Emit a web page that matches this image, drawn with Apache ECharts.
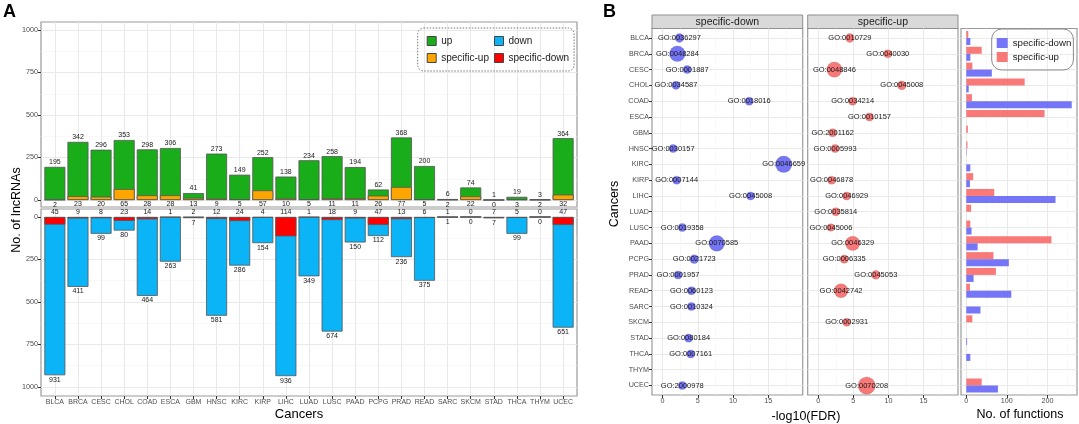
<!DOCTYPE html>
<html><head><meta charset="utf-8">
<script src="https://cdn.jsdelivr.net/npm/echarts@6/dist/echarts.min.js"></script>
<style>html,body{margin:0;padding:0;background:#fff}#c{width:1079px;height:424px}</style>
</head><body><div id="c"></div>
<script>
// ---------- data ----------
const cancers = ['BLCA','BRCA','CESC','CHOL','COAD','ESCA','GBM','HNSC','KIRC','KIRP','LIHC','LUAD','LUSC','PAAD','PCPG','PRAD','READ','SARC','SKCM','STAD','THCA','THYM','UCEC'];
const upTotal      = [195,342,296,353,298,306,41,273,149,252,138,234,258,194,62,368,200,6,74,1,19,3,364];
const upSpecific   = [2,23,20,65,28,28,13,9,5,57,10,5,11,11,26,77,5,2,22,0,3,2,32];
const downTotal    = [931,411,99,80,464,263,7,581,286,154,936,349,674,150,112,236,375,1,0,7,99,0,651];
const downSpecific = [45,9,8,23,14,1,2,12,24,4,114,1,18,9,47,13,6,1,0,7,5,0,47];
const countTicks = [0,250,500,750,1000];
const countMinor = [125,375,625,875];

const sdFDR   = [2.4,2.1,3.5,1.9,12.3,null,null,1.5,17.2,2.0,12.5,null,2.8,7.7,4.5,2.2,4.1,4.1,null,3.7,4.0,null,2.8];
const sdGO    = ['GO:0036297','GO:0048284','GO:0001887','GO:0034587','GO:0018016',null,null,'GO:0030157','GO:0046659','GO:0007144','GO:0045008',null,'GO:0019358','GO:0070585','GO:0021723','GO:0001957','GO:0060123','GO:0010324',null,'GO:0080184','GO:0007161',null,'GO:2000978'];
const sdCount = [6,19,5,5,5,null,null,5,21,5,5,null,5,19,6,5,5,5,null,5,5,null,5];
const suFDR   = [4.5,9.9,2.3,11.9,4.9,7.3,2.05,2.4,null,1.9,4.05,2.5,1.8,4.9,3.7,8.2,3.25,null,4.05,null,null,null,6.9];
const suGO    = ['GO:0010729','GO:0040030','GO:0048846','GO:0045008','GO:0034214','GO:0010157','GO:2001162','GO:0005993',null,'GO:0046878','GO:0046929','GO:0035814','GO:0045006','GO:0046329','GO:0006335','GO:0045053','GO:0042742',null,'GO:0002931',null,null,null,'GO:0070208'];
const suCount = [6,5,18,6,5,5,5,5,null,5,5,5,4.5,16,5,6,15,null,5,null,null,null,23];
const fdrTicks = [0,5,10,15];
const fdrMinor = [2.5,7.5,12.5,17.5];

const funcDown = [10,10,63,6,260,0,0,1,10,9,220,0,13,28,105,18,111,35,0,2,10,0,78];
const funcUp   = [5,38,15,144,14,193,4,3,0,17,69,12,10,210,67,73,9,0,15,0,0,0,38];
const funcTicks = [0,100,200];
const funcMinor = [50,150,250];

// ---------- chart ----------
const chart = echarts.init(document.getElementById('c'), null, {renderer:'canvas'});
const F = '"Liberation Sans", Arial, Helvetica, sans-serif';
const idx = cancers.map((_, i) => i);
const COL = { up:'#19ad19', sup:'#ffa500', down:'#0bb4f7', sdown:'#ff0000',
  bBlue:'rgba(102,102,246,0.9)', bRed:'rgba(248,106,106,0.9)' };
const major = {color:'#e9e9e9', width:1};
const minor = {color:'#f4f4f4', width:0.6};
const tick = {show:true, length:3, lineStyle:{color:'#333', width:1}};
const lab = {color:'#4d4d4d', fontSize:7.2, fontFamily:F, formatter:v => String(v)};
const border = {show:true, borderColor:'#9a9a9a', borderWidth:1.2, outerBoundsMode:'none'};
const noLine = {show:false, onZero:false};

function vAxis(o){ return Object.assign({type:'value', axisLine:noLine, splitLine:{show:true, lineStyle:major}}, o); }
function minorAxis(o, vals){ return Object.assign({type:'value', axisLine:noLine,
  axisTick:{show:false, customValues:vals}, axisLabel:{show:false},
  splitLine:{show:true, lineStyle:minor}}, o); }

const sdPoints = [], suPoints = [];
cancers.forEach((c, i) => {
  if (sdFDR[i] != null) sdPoints.push([sdFDR[i], i, sdGO[i], sdCount[i]]);
  if (suFDR[i] != null) suPoints.push([suFDR[i], i, suGO[i], suCount[i]]);
});

const barLabel = (pos) => ({show:true, position:pos, distance:1, fontSize:7, color:'#1a1a1a', fontFamily:F});
const scatterLabel = {show:true, position:'inside', formatter:p => p.data[2], fontSize:7.5, color:'#1a1a1a', fontFamily:F};
const catFmt = v => cancers[Math.round(v)];

const option = {
  animation:false,
  textStyle:{fontFamily:F},
  grid:[
    Object.assign({left:41, top:22, width:536, height:185}, border),
    Object.assign({left:41, top:209, width:536, height:187}, border),
    Object.assign({left:652, top:28.5, width:150.7, height:366.5}, border),
    Object.assign({left:807.7, top:28.5, width:150.3, height:366.5}, border),
    Object.assign({left:961, top:28.5, width:116, height:366.5}, border),
    {left:961, top:30.1, width:116, height:363.3, show:false, outerBoundsMode:'none'}
  ],
  xAxis:[
    vAxis({gridIndex:0, min:-0.6, max:22.6, axisTick:{show:false, customValues:idx}, axisLabel:{show:false}}),
    vAxis({gridIndex:1, min:-0.6, max:22.6, axisTick:Object.assign({customValues:idx}, tick),
      axisLabel:Object.assign({}, lab, {customValues:idx, margin:3, fontSize:7, formatter:catFmt})}),
    vAxis({gridIndex:2, min:-1.5, max:19.9, axisTick:Object.assign({customValues:fdrTicks}, tick),
      axisLabel:Object.assign({}, lab, {customValues:fdrTicks, margin:3})}),
    minorAxis({gridIndex:2, min:-1.5, max:19.9, position:'top'}, fdrMinor),
    vAxis({gridIndex:3, min:-1.5, max:19.9, axisTick:Object.assign({customValues:fdrTicks}, tick),
      axisLabel:Object.assign({}, lab, {customValues:fdrTicks, margin:3})}),
    minorAxis({gridIndex:3, min:-1.5, max:19.9, position:'top'}, fdrMinor),
    vAxis({gridIndex:4, min:-13, max:273, axisTick:Object.assign({customValues:funcTicks}, tick),
      axisLabel:Object.assign({}, lab, {customValues:funcTicks, margin:3})}),
    minorAxis({gridIndex:4, min:-13, max:273, position:'top'}, funcMinor),
    {type:'value', gridIndex:5, min:-13, max:273, show:false, axisLine:noLine}
  ],
  yAxis:[
    vAxis({gridIndex:0, min:-41, max:1047, axisTick:Object.assign({customValues:countTicks}, tick),
      axisLabel:Object.assign({}, lab, {customValues:countTicks, margin:3})}),
    minorAxis({gridIndex:0, min:-41, max:1047, position:'right'}, countMinor),
    vAxis({gridIndex:1, min:-47, max:1053, inverse:true, axisTick:Object.assign({customValues:countTicks}, tick),
      axisLabel:Object.assign({}, lab, {customValues:countTicks, margin:3})}),
    minorAxis({gridIndex:1, min:-47, max:1053, inverse:true, position:'right'}, countMinor),
    vAxis({gridIndex:2, min:-0.6, max:22.6, inverse:true, axisTick:Object.assign({customValues:idx}, tick),
      axisLabel:Object.assign({}, lab, {customValues:idx, margin:3, formatter:catFmt})}),
    vAxis({gridIndex:3, min:-0.6, max:22.6, inverse:true, axisTick:{show:false, customValues:idx}, axisLabel:{show:false}}),
    vAxis({gridIndex:4, min:-0.6, max:22.6, inverse:true, axisTick:{show:false, customValues:idx}, axisLabel:{show:false}}),
    {type:'category', gridIndex:5, data:cancers, inverse:true, show:false, axisLine:noLine}
  ],
  legend:[
    {orient:'vertical', left:417.7, top:28, height:30, padding:[7,5,7,9], itemGap:5,
     itemWidth:9, itemHeight:9, icon:'rect', selectedMode:false,
     borderColor:'#777', borderWidth:1, borderType:[1.5,1.5], borderRadius:6,
     itemStyle:{borderColor:'#444', borderWidth:1},
     textStyle:{fontSize:10, lineHeight:12, color:'#1a1a1a', fontFamily:F},
     data:[{name:'up', itemStyle:{color:COL.up}}, {name:'specific-up', itemStyle:{color:COL.sup}},
           {name:'down', itemStyle:{color:COL.down}}, {name:'specific-down', itemStyle:{color:COL.sdown}}]},
    {orient:'vertical', left:991.7, top:29, padding:[8,2,7,5], itemGap:2,
     itemWidth:11, itemHeight:10, icon:'rect', selectedMode:false,
     borderColor:'#8a8a8a', borderWidth:1, borderRadius:10,
     itemStyle:{borderWidth:0},
     textStyle:{fontSize:9.7, lineHeight:12, color:'#1a1a1a', fontFamily:F},
     data:[{name:'specific-down', itemStyle:{color:COL.bBlue, borderWidth:0}},
           {name:'specific-up', itemStyle:{color:COL.bRed, borderWidth:0}}]}
  ],
  series:[
    {type:'bar', name:'up', xAxisIndex:0, yAxisIndex:0, barWidth:21, barGap:'-100%',
     data:upTotal.map((v,i)=>[i,v]), itemStyle:{color:COL.up, borderColor:'#555', borderWidth:0.8},
     label:barLabel('top')},
    {type:'bar', name:'specific-up', xAxisIndex:0, yAxisIndex:0, barWidth:21, barGap:'-100%',
     data:upSpecific.map((v,i)=>[i,v]), itemStyle:{color:COL.sup, borderColor:'#555', borderWidth:0.8},
     label:barLabel('bottom')},
    {type:'bar', name:'down', xAxisIndex:1, yAxisIndex:2, barWidth:21, barGap:'-100%',
     data:downTotal.map((v,i)=>[i,v]), itemStyle:{color:COL.down, borderColor:'#555', borderWidth:0.8},
     label:barLabel('bottom')},
    {type:'bar', name:'specific-down', xAxisIndex:1, yAxisIndex:2, barWidth:21, barGap:'-100%',
     data:downSpecific.map((v,i)=>[i,v]), itemStyle:{color:COL.sdown, borderColor:'#555', borderWidth:0.8},
     label:barLabel('top')},
    {type:'scatter', name:'sd-go', xAxisIndex:2, yAxisIndex:4, data:sdPoints,
     symbolSize:d => 3.6*Math.sqrt(d[3]),
     itemStyle:{color:COL.bBlue, borderColor:'rgba(70,70,70,0.35)', borderWidth:0.5, opacity:1},
     label:scatterLabel},
    {type:'scatter', name:'su-go', xAxisIndex:4, yAxisIndex:5, data:suPoints,
     symbolSize:d => 3.6*Math.sqrt(d[3]),
     itemStyle:{color:COL.bRed, borderColor:'rgba(70,70,70,0.35)', borderWidth:0.5, opacity:1},
     label:scatterLabel},
    {type:'bar', name:'specific-up', xAxisIndex:8, yAxisIndex:7, barWidth:7, barGap:0,
     data:funcUp, itemStyle:{color:COL.bRed}},
    {type:'bar', name:'specific-down', xAxisIndex:8, yAxisIndex:7, barWidth:7, barGap:0,
     data:funcDown, itemStyle:{color:COL.bBlue}}
  ],
  graphic:[
    {type:'text', left:3, top:3, style:{text:'A', font:'bold 18px '+F, fill:'#000'}},
    {type:'text', left:603, top:3, style:{text:'B', font:'bold 18px '+F, fill:'#000'}},
    {type:'rect', shape:{x:652, y:15, width:150.7, height:13.5}, style:{fill:'#d9d9d9', stroke:'#8f8f8f', lineWidth:1}},
    {type:'rect', shape:{x:807.7, y:15, width:150.3, height:13.5}, style:{fill:'#d9d9d9', stroke:'#8f8f8f', lineWidth:1}},
    {type:'text', x:727.4, y:22, style:{text:'specific-down', font:'10.5px '+F, fill:'#1a1a1a', align:'center', verticalAlign:'middle'}},
    {type:'text', x:882.9, y:22, style:{text:'specific-up', font:'10.5px '+F, fill:'#1a1a1a', align:'center', verticalAlign:'middle'}},
    {type:'text', x:17, y:210, rotation:Math.PI/2, style:{text:'No. of lncRNAs', font:'12.5px '+F, fill:'#000', align:'center', verticalAlign:'middle'}},
    {type:'text', x:299, y:414, style:{text:'Cancers', font:'13px '+F, fill:'#000', align:'center', verticalAlign:'middle'}},
    {type:'text', x:615, y:204, rotation:Math.PI/2, style:{text:'Cancers', font:'12.5px '+F, fill:'#000', align:'center', verticalAlign:'middle'}},
    {type:'text', x:806, y:417, style:{text:'-log10(FDR)', font:'12.5px '+F, fill:'#000', align:'center', verticalAlign:'middle'}},
    {type:'text', x:1020, y:415, style:{text:'No. of functions', font:'12.5px '+F, fill:'#000', align:'center', verticalAlign:'middle'}}
  ]
};
chart.setOption(option);
</script></body></html>
